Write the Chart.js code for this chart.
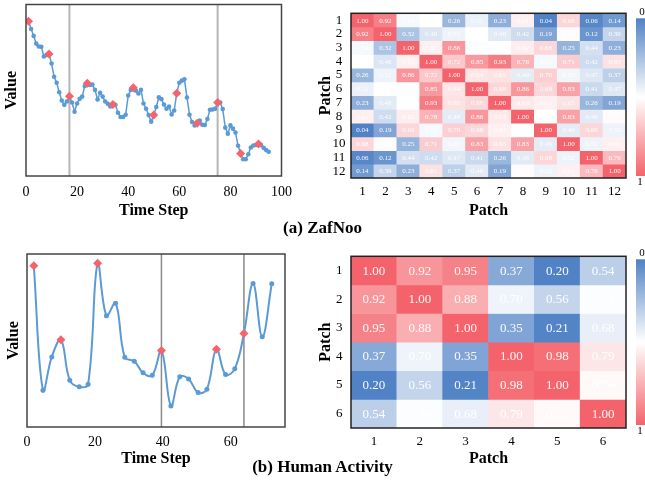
<!DOCTYPE html>
<html><head><meta charset="utf-8">
<script src="https://cdn.jsdelivr.net/npm/chart.js@4.4.1/dist/chart.umd.min.js"></script>
<style>
body{margin:0;background:#fff;width:645px;height:490px;position:relative;overflow:hidden}
canvas{position:absolute}
.cap{position:absolute;left:0;width:645px;text-align:center;font:bold 17px "Liberation Serif",serif;color:#000;line-height:20px}
</style></head><body>
<canvas id="zafLine" width="300" height="222" style="left:0px;top:0px"></canvas>
<canvas id="zafHeat" width="335" height="222" style="left:310px;top:0px"></canvas>
<canvas id="haLine" width="300" height="230" style="left:0px;top:240px"></canvas>
<canvas id="haHeat" width="335" height="230" style="left:310px;top:240px"></canvas>
<div class="cap" style="top:218px">(a) ZafNoo</div>
<div class="cap" style="top:457px">(b) Human Activity</div>
<script>
// ---------- data ----------
const zafValues = [90.2,85.7,81.7,77.2,75.5,75.3,69.7,70.5,71.2,65.6,
  57.9,54.4,48.8,44.0,41.5,43.4,46.5,42.9,37.5,42.3,
  45.0,46.3,52.5,54.1,53.1,53.3,50.2,44.6,48.5,46.3,
  43.4,42.1,40.5,41.7,41.5,36.9,34.4,34.4,35.7,46.9,
  50.2,51.5,49.8,48.1,50.2,42.3,39.2,35.5,31.7,35.5,
  40.2,45.9,44.8,41.7,39.2,40.5,35.9,38.2,48.3,54.4,
  55.6,56.4,45.8,35.7,31.5,29.5,30.7,32.4,29.9,29.7,
  33.2,38.6,38.8,39.2,42.9,42.9,39.0,28.2,24.7,29.5,
  27.6,25.3,17.6,13.1,9.8,9.8,12.7,16.6,17.8,18.1,
  18.7,18.0,16.4,15.1,14.1];
const zafSteps = zafValues.map((v, i) => i + 1);
const zafRedSteps = [1, 9, 17, 24, 34, 42, 50, 59, 67, 75, 84, 91];
const zafBoundaries = [17, 75];
const zafXTicks = [0, 20, 40, 60, 80, 100];

const haTimes = [2.0,4.7,7.3,10.0,12.6,15.4,18.0,20.8,23.4,26.1,28.8,31.6,34.2,36.9,
  39.6,42.4,45.0,47.6,50.4,53.0,55.8,58.5,61.2,63.9,66.6,69.3,72.1];
const haValues = [93.2,21.2,40.5,50.4,27.0,23.2,24.7,94.6,64.3,71.6,40.3,38.0,31.3,29.9,
  44.2,12.2,29.0,27.8,19.9,21.8,45.0,30.3,33.6,54.1,83.0,52.1,82.8];
const haRedTimes = [2.0, 10.0, 20.8, 39.6, 55.8, 63.9];
const haBoundaries = [39.6, 63.9];
const haXTicks = [0, 20, 40, 60];

const zafPatches = ['1','2','3','4','5','6','7','8','9','10','11','12'];
const zafMatrix = [
  [1.00,0.92,0.54,0.57,0.26,0.51,0.23,0.61,0.04,0.68,0.06,0.14],
  [0.92,1.00,0.32,0.46,0.52,0.57,0.48,0.42,0.19,0.58,0.12,0.39],
  [0.54,0.32,1.00,0.61,0.86,0.56,0.57,0.62,0.68,0.25,0.44,0.23],
  [0.57,0.46,0.61,1.00,0.72,0.85,0.93,0.78,0.54,0.71,0.42,0.65],
  [0.26,0.52,0.86,0.72,1.00,0.64,0.65,0.49,0.70,0.53,0.47,0.37],
  [0.51,0.57,0.56,0.85,0.64,1.00,0.68,0.86,0.68,0.83,0.41,0.47],
  [0.23,0.48,0.57,0.93,0.65,0.68,1.00,0.63,0.61,0.65,0.26,0.19],
  [0.61,0.42,0.62,0.78,0.49,0.86,0.63,1.00,0.57,0.83,0.48,0.58],
  [0.04,0.19,0.68,0.54,0.70,0.68,0.61,0.57,1.00,0.49,0.68,0.52],
  [0.68,0.58,0.25,0.71,0.53,0.83,0.65,0.83,0.49,1.00,0.52,0.61],
  [0.06,0.12,0.44,0.42,0.47,0.41,0.26,0.48,0.68,0.52,1.00,0.76],
  [0.14,0.39,0.23,0.65,0.37,0.48,0.19,0.58,0.52,0.61,0.76,1.00]
];
const haPatches = ['1','2','3','4','5','6'];
const haMatrix = [
  [1.00,0.92,0.95,0.37,0.20,0.54],
  [0.92,1.00,0.88,0.70,0.56,0.74],
  [0.95,0.88,1.00,0.35,0.21,0.68],
  [0.37,0.70,0.35,1.00,0.98,0.79],
  [0.20,0.56,0.21,0.98,1.00,0.76],
  [0.54,0.74,0.68,0.79,0.76,1.00]
];
const colorbarLabels = ['0', '1'];

// ---------- styles ----------
const SERIF = '"Liberation Serif","Times New Roman",serif';
const LINE_BLUE = '#5b9bd5';
const MARK_RED = '#f4646c';
const LOW = [80, 130, 197];
const HIGH = [244, 99, 107];

const frame = {
  id: 'frame',
  afterDatasetsDraw(chart, args, o) {
    const {ctx, chartArea: a} = chart;
    ctx.save();
    ctx.strokeStyle = o.color; ctx.lineWidth = o.width;
    ctx.strokeRect(a.left, a.top, a.right - a.left, a.bottom - a.top);
    ctx.restore();
  }
};

function lineChart(id, xs, ys, redXs, bounds, xTicks, xMax, st) {
  const pts = xs.map((x, i) => ({x, y: ys[i]}));
  const red = pts.filter(p => redXs.includes(p.x));
  const datasets = bounds.map(b => ({
    data: [{x: b, y: 0}, {x: b, y: 100}], borderColor: st.boundColor,
    borderWidth: st.boundWidth, pointRadius: 0, tension: 0, order: 3
  }));
  datasets.push({data: pts, borderColor: LINE_BLUE, backgroundColor: LINE_BLUE,
    borderWidth: st.lineWidth, pointRadius: st.pointRadius, pointBorderWidth: 0,
    tension: st.tension, order: 2});
  datasets.push({data: red, showLine: false, pointStyle: 'rectRot', pointRadius: 4.5,
    pointBorderWidth: 0, backgroundColor: MARK_RED, borderColor: MARK_RED, order: 1});
  new Chart(document.getElementById(id), {
    type: 'line',
    data: {datasets},
    options: {
      responsive: false, animation: false, events: [],
      layout: {padding: {top: st.top, right: 15, left: 0, bottom: 0}},
      plugins: {legend: {display: false}, tooltip: {enabled: false},
        frame: {color: '#444', width: 1.5}},
      scales: {
        x: {type: 'linear', min: 0, max: xMax,
          grid: {display: false, drawTicks: false}, border: {display: false},
          afterBuildTicks: s => { s.ticks = xTicks.map(v => ({value: v})); },
          afterFit: s => { s.height = st.xAxisH; },
          ticks: {font: {family: SERIF, size: 14}, color: '#000', padding: st.tickPad, maxRotation: 0, autoSkip: false},
          title: {display: true, text: 'Time Step', color: '#000',
            font: {family: SERIF, size: 16, weight: 'bold'}, padding: {top: 0, bottom: 2}}},
        y: {min: 0, max: 100, grid: {display: false, drawTicks: false}, border: {display: false},
          ticks: {display: false},
          afterFit: s => { s.width = st.yAxisW; },
          title: {display: true, text: 'Value', color: '#000',
            font: {family: SERIF, size: 16, weight: 'bold'}, padding: {top: st.yTitlePad, bottom: 0}}}
      }
    },
    plugins: [frame]
  });
}

function mix(a, b, t) {
  return `rgb(${a.map((c, i) => Math.round(c + (b[i] - c) * t)).join(',')})`;
}

function heatmap(id, labels, matrix, st) {
  const all = matrix.flat();
  const lo = Math.min(...all), hi = Math.max(...all);
  const sorted = [...all].sort((a, b) => a - b);
  const mid = (sorted[Math.floor((sorted.length - 1) / 2)] + sorted[Math.ceil((sorted.length - 1) / 2)]) / 2;
  const W = [255, 255, 255];
  const color = v => v <= mid ? mix(LOW, W, (v - lo) / (mid - lo)) : mix(W, HIGH, (v - mid) / (hi - mid));
  const datasets = matrix.map((row, r) => ({
    data: row.map(() => [r + 0.5, r + 1.5]),
    values: row,
    backgroundColor: row.map(color),
    grouped: false, barPercentage: 1, categoryPercentage: 1, borderWidth: 0
  }));
  const cellText = {
    id: 'cellText',
    afterDatasetsDraw(chart) {
      const ctx = chart.ctx;
      ctx.save();
      ctx.font = `${st.cellFont}px ${SERIF}`;
      ctx.fillStyle = 'rgba(255,255,255,0.95)';
      ctx.textAlign = 'center'; ctx.textBaseline = 'middle';
      chart.data.datasets.forEach((ds, i) => {
        chart.getDatasetMeta(i).data.forEach((el, j) => {
          ctx.fillText(ds.values[j].toFixed(2), el.x, (el.y + el.base) / 2 + 0.5);
        });
      });
      ctx.restore();
    }
  };
  const colorBar = {
    id: 'colorBar',
    afterDraw(chart) {
      const {ctx, chartArea: a} = chart;
      const x = a.right + 10, y0 = a.top + st.barTop, y1 = a.bottom - st.barBottom;
      const g = ctx.createLinearGradient(0, y0, 0, y1);
      g.addColorStop(0, mix(LOW, LOW, 0)); g.addColorStop(0.5, '#ffffff'); g.addColorStop(1, mix(HIGH, HIGH, 0));
      ctx.save();
      ctx.fillStyle = g; ctx.fillRect(x, y0, 16, y1 - y0);
      ctx.fillStyle = '#000'; ctx.font = `11px ${SERIF}`; ctx.textAlign = 'center';
      ctx.textBaseline = 'bottom'; ctx.fillText(colorbarLabels[0], x + 6, y0 - 0.5);
      ctx.textBaseline = 'top'; ctx.fillText(colorbarLabels[1], x + 4, y1 + 1);
      ctx.restore();
    }
  };
  new Chart(document.getElementById(id), {
    type: 'bar',
    data: {labels, datasets},
    options: {
      responsive: false, animation: false, events: [],
      layout: {padding: {top: st.top, right: 19, left: 0, bottom: 0}},
      plugins: {legend: {display: false}, tooltip: {enabled: false},
        frame: {color: '#222', width: 1.5}},
      scales: {
        x: {type: 'category', offset: true, grid: {display: false, drawTicks: false}, border: {display: false},
          afterFit: s => { s.height = st.xAxisH; },
          ticks: {font: {family: SERIF, size: 13}, color: '#000', padding: 6, maxRotation: 0, autoSkip: false},
          title: {display: true, text: 'Patch', color: '#000',
            font: {family: SERIF, size: 16, weight: 'bold'}, padding: {top: 0, bottom: 2}}},
        y: {type: 'linear', reverse: true, min: 0.5, max: labels.length + 0.5,
          grid: {display: false, drawTicks: false}, border: {display: false},
          afterBuildTicks: s => { s.ticks = labels.map((l, i) => ({value: i + 1})); },
          afterFit: s => { s.width = 41; },
          ticks: {font: {family: SERIF, size: 13}, color: '#000', padding: st.tickPad,
            crossAlign: 'center', autoSkip: false, callback: v => labels[v - 1]},
          title: {display: true, text: 'Patch', color: '#000',
            font: {family: SERIF, size: 16, weight: 'bold'}, padding: {top: 6, bottom: 0}}}
      }
    },
    plugins: [frame, cellText, colorBar]
  });
}

lineChart('zafLine', zafSteps, zafValues, zafRedSteps, zafBoundaries, zafXTicks, 100,
  {top: 3, xAxisH: 46, yAxisW: 26, tickPad: 8, yTitlePad: 2, lineWidth: 1.5, pointRadius: 2.3,
   tension: 0, boundColor: '#b5b5b5', boundWidth: 2});
lineChart('haLine', haTimes, haValues, haRedTimes, haBoundaries, haXTicks, 76,
  {top: 14, xAxisH: 43, yAxisW: 27, tickPad: 7, yTitlePad: 4, lineWidth: 2, pointRadius: 2.5,
   tension: 0.4, boundColor: '#8a8a8a', boundWidth: 1.5});
heatmap('zafHeat', zafPatches, zafMatrix,
  {top: 3, xAxisH: 44, tickPad: 5.5, cellFont: 7, barTop: 5, barBottom: 2});
heatmap('haHeat', haPatches, haMatrix,
  {top: 14, xAxisH: 42, tickPad: 8.5, cellFont: 13, barTop: 3, barBottom: 3});
</script>
</body></html>
